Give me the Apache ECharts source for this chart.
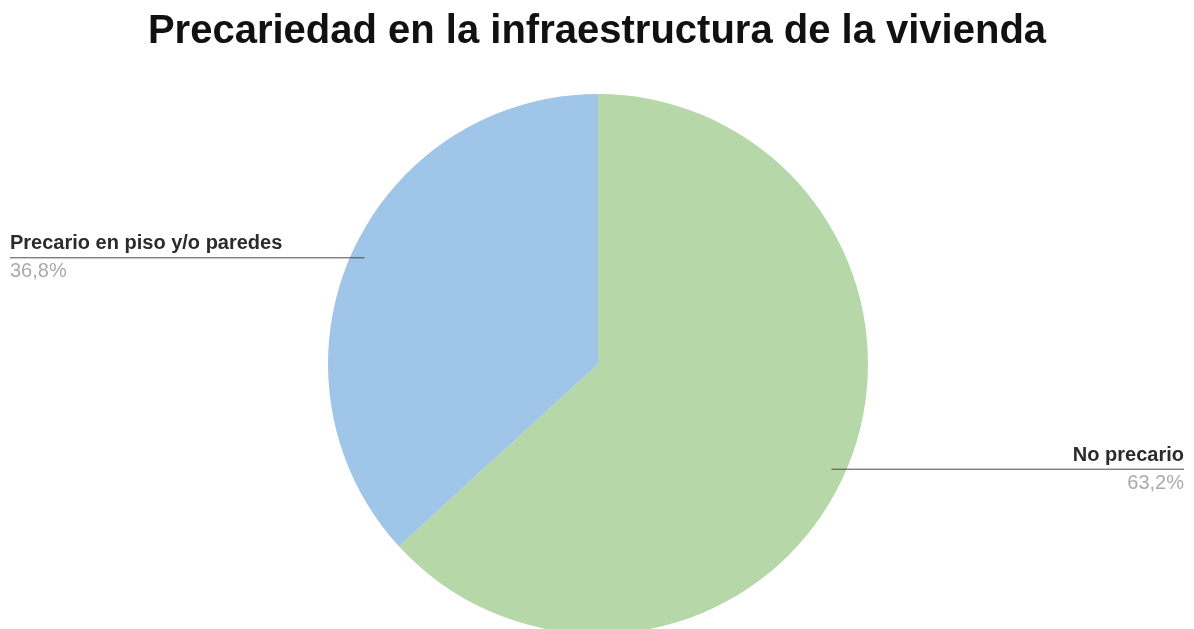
<!DOCTYPE html>
<html>
<head>
<meta charset="utf-8">
<script src="https://cdn.jsdelivr.net/npm/echarts@6/dist/echarts.min.js"></script>
<style>
html,body{margin:0;padding:0;background:#fff;}
#chart{width:1194px;height:629px;}
</style>
</head>
<body>
<div id="chart"></div>
<script>
const titleText = 'Precariedad en la infraestructura de la vivienda';
const categories = ['No precario', 'Precario en piso y/o paredes'];
const values = [63.2, 36.8];
const colors = ['#b6d7a8', '#9fc5e8'];

const chart = echarts.init(document.getElementById('chart'));
const W = 1194, H = 629;
const cx = 598, cy = 364, R = 270;
const font = 'Liberation Sans, Arial, sans-serif';

chart.setOption({
  animation: false,
  backgroundColor: '#ffffff',
  title: {
    text: titleText,
    left: 'center',
    top: 7,
    textStyle: {fontFamily: font, fontSize: 40, fontWeight: 'bold', color: '#111'}
  },
  series: [{
    type: 'pie',
    z: 2,
    center: [cx, cy],
    radius: R,
    startAngle: 90,
    clockwise: true,
    silent: true,
    data: categories.map((c, i) => ({name: c, value: values[i], itemStyle: {color: colors[i]}})),
    label: {show: false},
    labelLine: {show: false}
  }, {
    type: 'pie',
    z: 5,
    center: [cx, cy],
    radius: R,
    startAngle: 90,
    clockwise: true,
    silent: true,
    data: categories.map((c, i) => ({name: c, value: values[i], itemStyle: {color: 'rgba(0,0,0,0)'}})),
    label: {
      alignTo: 'edge',
      edgeDistance: 10,
      formatter: p => '{n|' + p.name + '}\n{v|' + p.value.toFixed(1).replace('.', ',') + '%}',
      rich: {
        n: {fontFamily: font, fontSize: 20, fontWeight: 'bold', color: '#2b2b2b', lineHeight: 28},
        v: {fontFamily: font, fontSize: 20, color: '#aaa', lineHeight: 28}
      }
    },
    labelLine: {show: true, length: 1, length2: 0, lineStyle: {color: '#4a4a4a', width: 1}},
    labelLayout: function (params) {
      const rect = params.labelRect;
      const isLeft = rect.x < W / 2;
      const pts = params.labelLinePoints;
      if (!pts) return {};
      const shift = isLeft ? 3 : -4;
      const y = rect.y + rect.height / 2 + shift;
      const ix = cx + (pts[0][0] - cx) * 0.945;
      const ex = isLeft ? rect.x : rect.x + rect.width;
      return {dy: shift, labelLinePoints: [[ix, y], [ix, y], [ex, y]]};
    }
  }]
});
</script>
</body>
</html>
